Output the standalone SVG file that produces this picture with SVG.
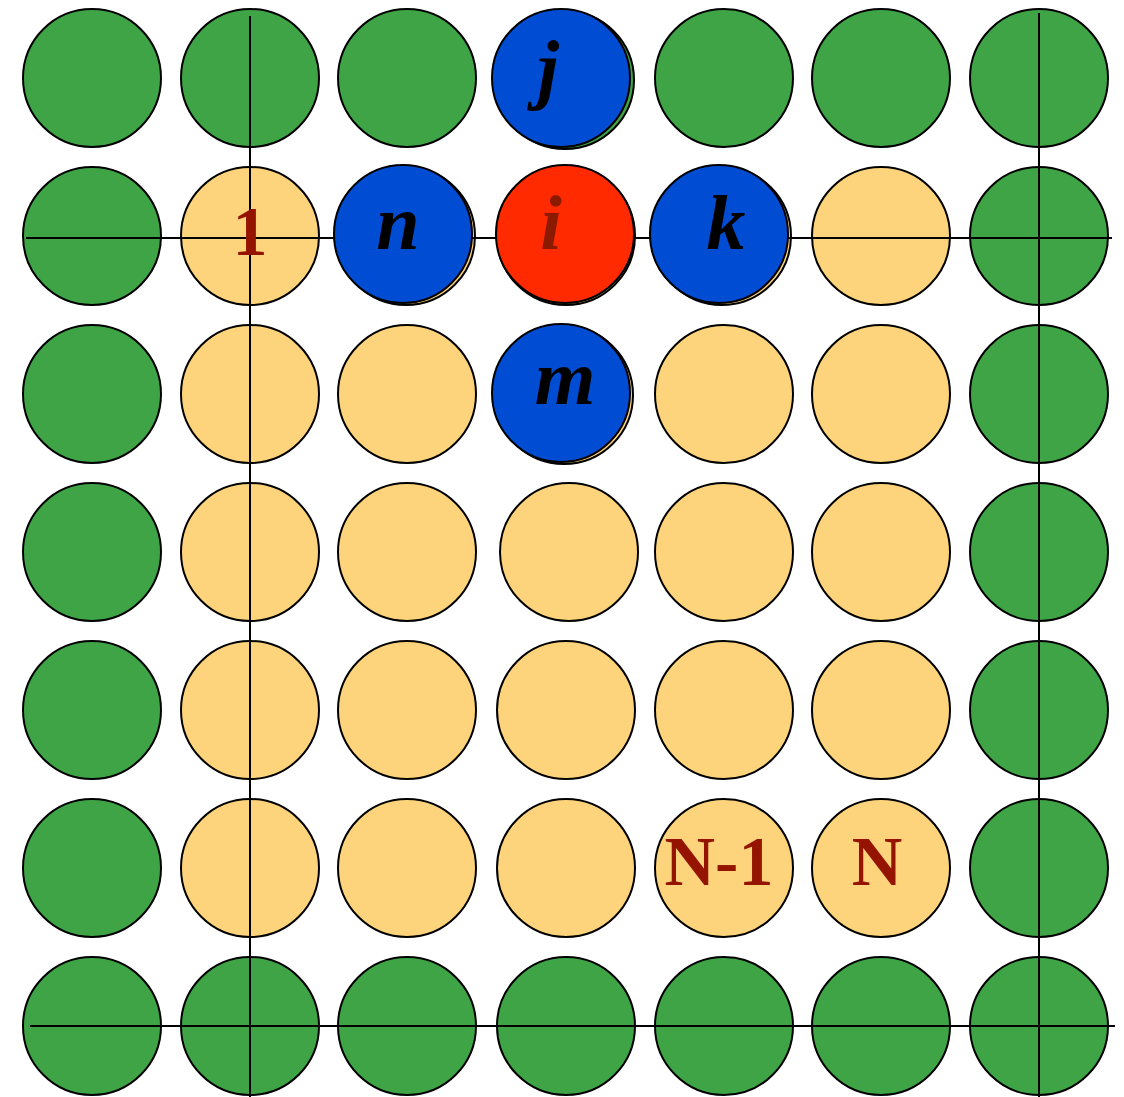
<svg xmlns="http://www.w3.org/2000/svg" width="1124" height="1097" viewBox="0 0 1124 1097">
<style>
circle{stroke:#000;stroke-width:2}
.g{fill:#3EA445}
.y{fill:#FDD47C}
.b{fill:#004DD3}
.r{fill:#FF2A00}
.ln{stroke:#000;stroke-width:2;fill:none}
.it{font-family:"Liberation Serif","Times New Roman",serif;font-style:italic;font-weight:bold;font-size:78px;text-anchor:middle}
.num{font-family:"Liberation Serif","Times New Roman",serif;font-weight:bold;font-size:70px;text-anchor:middle;fill:#951400}
</style>
<rect width="1124" height="1097" fill="#fff"/>
<g id="grid">
<g id="r1">
<circle class="g" cx="92" cy="78" r="69"/><circle class="g" cx="250" cy="78" r="69"/><circle class="g" cx="407" cy="78" r="69"/><circle class="g" cx="565" cy="80" r="69"/><circle class="g" cx="724" cy="78" r="69"/><circle class="g" cx="881" cy="78" r="69"/><circle class="g" cx="1039" cy="78" r="69"/>
</g>
<g id="r2">
<circle class="g" cx="92" cy="236" r="69"/><circle class="y" cx="250" cy="236" r="69"/><circle class="y" cx="406" cy="236" r="69"/><circle class="y" cx="566" cy="236" r="69"/><circle class="y" cx="722" cy="236" r="69"/><circle class="y" cx="881" cy="236" r="69"/><circle class="g" cx="1039" cy="236" r="69"/>
</g>
<g id="r3">
<circle class="g" cx="92" cy="394" r="69"/><circle class="y" cx="250" cy="394" r="69"/><circle class="y" cx="407" cy="394" r="69"/><circle class="y" cx="564" cy="395" r="69"/><circle class="y" cx="724" cy="394" r="69"/><circle class="y" cx="881" cy="394" r="69"/><circle class="g" cx="1039" cy="394" r="69"/>
</g>
<g id="r4">
<circle class="g" cx="92" cy="552" r="69"/><circle class="y" cx="250" cy="552" r="69"/><circle class="y" cx="407" cy="552" r="69"/><circle class="y" cx="569" cy="552" r="69"/><circle class="y" cx="724" cy="552" r="69"/><circle class="y" cx="881" cy="552" r="69"/><circle class="g" cx="1039" cy="552" r="69"/>
</g>
<g id="r5">
<circle class="g" cx="92" cy="710" r="69"/><circle class="y" cx="250" cy="710" r="69"/><circle class="y" cx="407" cy="710" r="69"/><circle class="y" cx="566" cy="710" r="69"/><circle class="y" cx="724" cy="710" r="69"/><circle class="y" cx="881" cy="710" r="69"/><circle class="g" cx="1039" cy="710" r="69"/>
</g>
<g id="r6">
<circle class="g" cx="92" cy="868" r="69"/><circle class="y" cx="250" cy="868" r="69"/><circle class="y" cx="407" cy="868" r="69"/><circle class="y" cx="566" cy="868" r="69"/><circle class="y" cx="724" cy="868" r="69"/><circle class="y" cx="881" cy="868" r="69"/><circle class="g" cx="1039" cy="868" r="69"/>
</g>
<g id="r7">
<circle class="g" cx="92" cy="1026" r="69"/><circle class="g" cx="250" cy="1026" r="69"/><circle class="g" cx="407" cy="1026" r="69"/><circle class="g" cx="566" cy="1026" r="69"/><circle class="g" cx="724" cy="1026" r="69"/><circle class="g" cx="881" cy="1026" r="69"/><circle class="g" cx="1039" cy="1026" r="69"/>
</g>
</g>
<g id="connectors">
<line class="ln" x1="250" y1="16" x2="250" y2="1097"/>
<line class="ln" x1="1039" y1="13" x2="1039" y2="1097"/>
<line class="ln" x1="26" y1="238" x2="1112" y2="238"/>
<line class="ln" x1="30" y1="1026" x2="1115" y2="1026"/>
</g>
<g id="node-j"><circle class="b" cx="561" cy="78" r="69"/><text class="it" x="548" y="94">j</text></g>
<g id="node-n"><circle class="b" cx="403" cy="234" r="69"/><text class="it" x="398" y="249">n</text></g>
<g id="node-i"><circle class="r" cx="565" cy="234" r="69"/><text class="it" x="551" y="249" fill="#8B1A00">i</text></g>
<g id="node-k"><circle class="b" cx="719" cy="234" r="69"/><text class="it" x="726" y="249">k</text></g>
<g id="node-m"><circle class="b" cx="561" cy="393" r="69"/><text class="it" x="565" y="404">m</text></g>
<g id="label-1"><text class="num" x="250" y="255">1</text></g>
<g id="label-N-1"><text class="num" x="719" y="885">N-1</text></g>
<g id="label-N"><text class="num" x="877" y="885">N</text></g>
</svg>
